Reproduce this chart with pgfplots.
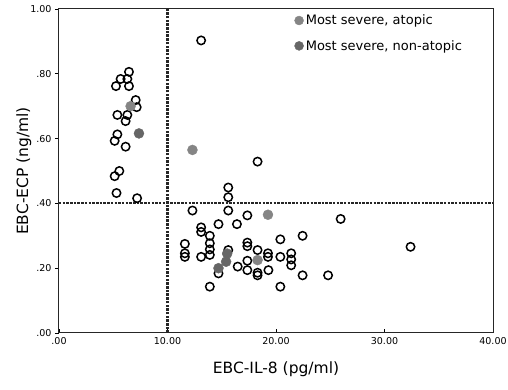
\documentclass[border=0pt]{standalone}
\usepackage{pgfplots}
\pgfplotsset{compat=1.18}
\usepackage{fontspec}
\setmainfont{DejaVu Sans}
\definecolor{atop}{HTML}{858585}
\definecolor{nonatop}{HTML}{666666}
\begin{document}
\begin{tikzpicture}[x=1pt,y=1pt]
\begin{axis}[
  scale only axis, width=434pt, height=324pt,
  xmin=0, xmax=40, ymin=0, ymax=1,
  axis line style={black!85, line width=1pt},
  xtick={0,10,20,30,40}, xticklabels={.00,10.00,20.00,30.00,40.00},
  ytick={0,0.2,0.4,0.6,0.8,1}, yticklabels={.00,.20,.40,.60,.80,1.00},
  xtick pos=bottom, ytick pos=left,
  x tick label style={font=\fontsize{9.5}{12}\selectfont, yshift=-1pt},
  y tick label style={font=\fontsize{9.5}{12}\selectfont},
  tick style={black, line width=0.8pt},
  /pgf/number format/assume math mode=true,
  xtick align=inside, ytick align=outside,
  major tick length=4pt,
  xlabel={EBC-IL-8 (pg/ml)}, ylabel={EBC-ECP (ng/ml)},
  label style={font=\fontsize{15.5}{18}\selectfont},
  xlabel style={yshift=-10pt}, ylabel style={yshift=-8pt},
  legend style={draw=none, fill=none, at={(0.535,0.995)}, anchor=north west,
    font=\fontsize{13}{15}\selectfont, row sep=10pt, legend cell align=left},
  legend image code/.code={\draw[#1] (0pt,0pt) circle (4.5pt);},
]
\addplot[black!85, line width=2.2pt, dash pattern=on 2.5pt off 1.2pt, forget plot] coordinates {(10,0) (10,1)};
\addplot[black!85, line width=2.2pt, dash pattern=on 2.5pt off 1.2pt, forget plot] coordinates {(0,0.40) (40,0.40)};
\addplot[only marks, mark=o, mark size=4.2pt, black, line width=1.5pt, forget plot] coordinates {
(13.1,0.903) (6.45,0.806) (5.68,0.784) (6.3,0.784) (5.25,0.762) (6.45,0.762)
(7.07,0.719) (7.16,0.697) (5.38,0.673) (6.3,0.673) (6.14,0.654) (5.38,0.613)
(5.13,0.593) (6.14,0.575) (5.56,0.50) (5.13,0.484) (5.3,0.432) (7.2,0.416)
(18.3,0.529) (15.6,0.449) (15.6,0.419) (12.3,0.378) (15.6,0.378) (17.36,0.363)
(25.96,0.352) (14.7,0.336) (16.4,0.336) (13.1,0.326) (13.1,0.312) (13.9,0.30)
(22.45,0.30) (20.4,0.289) (13.9,0.277) (11.6,0.275) (17.36,0.279) (17.36,0.268)
(13.9,0.258) (15.6,0.256) (18.3,0.256) (11.6,0.246) (19.26,0.246) (13.9,0.241)
(11.6,0.235) (13.1,0.235) (19.26,0.235) (20.4,0.235) (21.4,0.246) (21.4,0.227)
(17.36,0.223) (21.4,0.209) (16.47,0.205) (14.7,0.184) (17.36,0.194) (18.3,0.186)
(18.3,0.178) (19.3,0.194) (22.45,0.178) (24.8,0.178) (13.9,0.143) (20.4,0.143)
(32.4,0.266)};
\addplot[only marks, mark=*, mark size=5pt, draw=atop, fill=atop] coordinates {
(6.6,0.70) (12.3,0.565) (19.26,0.365) (18.3,0.225)};
\addlegendentry{Most severe, atopic}
\addplot[only marks, mark=*, mark size=5pt, draw=nonatop, fill=nonatop] coordinates {
(7.37,0.616) (15.5,0.245) (15.4,0.22) (14.7,0.20)};
\addlegendentry{Most severe, non-atopic}
\end{axis}
\pgfresetboundingbox
\path (-59pt,-57pt) rectangle (449pt,333pt);
\end{tikzpicture}
\end{document}
